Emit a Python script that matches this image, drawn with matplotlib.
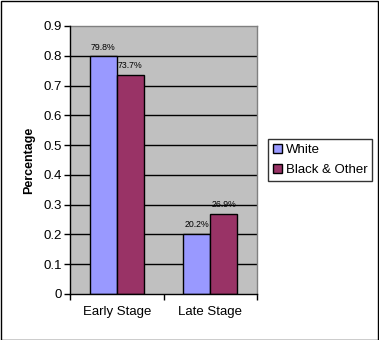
import matplotlib
matplotlib.use("Agg")
import matplotlib.pyplot as plt
from matplotlib.patches import Rectangle
import numpy as np

categories = ["Early Stage", "Late Stage"]
series_names = ["White", "Black & Other"]
white_vals = [0.798, 0.202]
black_vals = [0.737, 0.269]
yticks = [0, 0.1, 0.2, 0.3, 0.4, 0.5, 0.6, 0.7, 0.8, 0.9]
colors = ["#9999FF", "#993366"]

plt.rcParams['font.family'] = ['Liberation Sans', 'DejaVu Sans']

fig = plt.figure(figsize=(3.79, 3.40), dpi=100)
ax = fig.add_axes([70/379, 46/340, 187/379, 268/340])
ax.set_facecolor("#C0C0C0")

x = np.arange(len(categories))
w = 0.289
series = [white_vals, black_vals]
for i, (vals, name, c) in enumerate(zip(series, series_names, colors)):
    pos = x + (i - 0.5) * w
    ax.bar(pos, vals, width=w, color=c, edgecolor="black", linewidth=1,
           label=name, zorder=3)
    for xb, v in zip(pos, vals):
        ax.annotate(f"{v*100:.1f}%", (xb, v), xytext=(0, 3.5), textcoords="offset points",
                    ha="center", va="bottom", fontsize=6.3, zorder=4)

ax.set_xlim(-0.5, 1.5)
ax.set_ylim(0, 0.9)
ax.set_yticks(yticks)
ax.set_yticklabels([f"{t:g}" for t in yticks], fontsize=9.5)
for t in yticks[1:-1]:
    ax.axhline(t, color="black", linewidth=1, zorder=1)
ax.set_xticks(x)
ax.set_xticklabels(categories, fontsize=9.5)
ax.tick_params(axis="x", length=0, pad=9)
ax.set_xticks([-0.5, 0.5, 1.5], minor=True)
ax.tick_params(axis="x", which="minor", length=4, direction="out", width=1)
ax.tick_params(axis="y", length=4, direction="out", width=1, pad=2)
ax.set_ylabel("Percentage", fontsize=9, fontweight="bold", labelpad=6)

for s in ["top", "right"]:
    ax.spines[s].set_color("#808080")
    ax.spines[s].set_linewidth(1)
for s in ["left", "bottom"]:
    ax.spines[s].set_color("black")
    ax.spines[s].set_linewidth(1)
    ax.spines[s].set_zorder(5)

leg = fig.legend(loc="center left", bbox_to_anchor=(268/379, 1 - 160/340),
                 frameon=True, fancybox=False, edgecolor="black", fontsize=9.5,
                 handlelength=0.7, handleheight=0.7, handletextpad=0.3,
                 borderpad=0.35, labelspacing=0.6, borderaxespad=0)
leg.get_frame().set_linewidth(1)

fig.patches.append(Rectangle((0.5/379, 0.5/340), 1 - 1.5/379, 1 - 1.5/340,
                             transform=fig.transFigure, fill=False,
                             edgecolor="black", linewidth=1))

fig.savefig("out.png", dpi=100)
